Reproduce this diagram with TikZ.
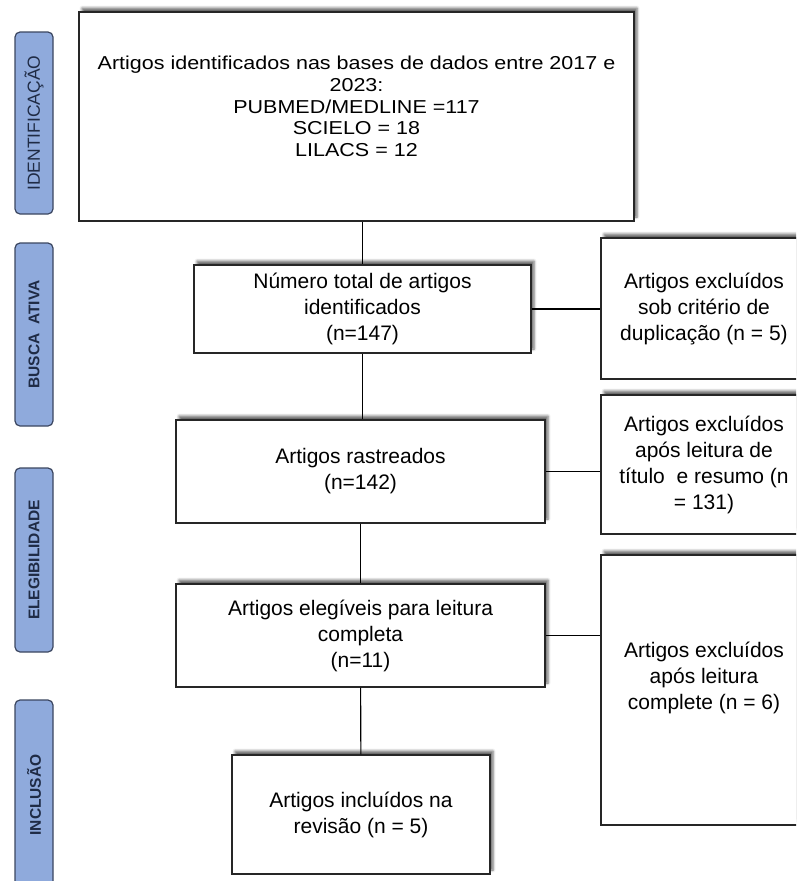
\documentclass[tikz,border=0pt]{standalone}
\usepackage{fontspec}
\setmainfont{Liberation Sans}
\newfontfamily\widefont{Liberation Sans}[FakeStretch=1.15]
\usetikzlibrary{shadows.blur}
\definecolor{phasefill}{HTML}{8FAADC}
\definecolor{phaseline}{HTML}{3B4660}
\definecolor{phasetext}{HTML}{1F2B45}

\begin{document}
\begin{tikzpicture}[x=1pt,y=-1pt,every node/.style={inner sep=0pt},
                    boxfont/.style={font=\fontsize{21}{26}\selectfont}]
  \tikzstyle{stage}=[rectangle,draw=black!85,line width=1.2pt,fill=white,align=center,boxfont,
                     blur shadow={shadow xshift=3pt,shadow yshift=4pt,shadow blur radius=2.5pt,shadow opacity=60}]
  \tikzstyle{phase}=[rectangle,rounded corners=5pt,draw=phaseline,line width=1.2pt,fill=phasefill,
                     text=phasetext,rotate=90,minimum height=38pt,font=\bfseries\fontsize{15.5}{18}\selectfont]
  \tikzstyle{link}=[line width=1.1pt]

  \clip (0,0) rectangle (796,881);

  \node[phase,minimum width=182pt,font=\fontsize{17.5}{20}\selectfont] (LI) at (34,123) {IDENTIFICAÇÃO};
  \node[phase,minimum width=183pt] (LB) at (34,334.5) {BUSCA\ \ ATIVA};
  \node[phase,minimum width=184pt] (LE) at (34,560) {ELEGIBILIDADE};
  \node[phase,minimum width=190pt] (LN) at (34,795) {INCLUSÃO};

  \node[stage,minimum width=555pt,minimum height=209pt,
        label={[align=center,font=\widefont\fontsize{18.7}{21.7}\selectfont,yshift=10pt]center:{Artigos identificados nas bases de dados entre 2017 e\\2023:\\PUBMED/MEDLINE =117\\SCIELO = 18\\LILACS = 12}}]
        (AI) at (356.5,116.5) {};
  \node[stage,minimum width=337pt,minimum height=88pt]  (NT) at (362.5,309)   {Número total de artigos\\identificados\\(n=147)};
  \node[stage,minimum width=369pt,minimum height=103pt] (AR) at (360.5,471.5) {Artigos rastreados\\(n=142)};
  \node[stage,minimum width=369pt,minimum height=103pt] (AE) at (360.5,635.5) {Artigos elegíveis para leitura\\completa\\(n=11)};
  \node[stage,minimum width=258pt,minimum height=119pt] (AN) at (361,814.5)   {Artigos incluídos na\\revisão (n = 5)};

  \node[stage,minimum width=206pt,minimum height=141pt] (ED) at (704,308.5) {Artigos excluídos\\sob critério de\\duplicação (n = 5)};
  \node[stage,minimum width=206pt,minimum height=139pt] (ET) at (704,464.5) {Artigos excluídos\\após leitura de\\título\ \ e resumo (n\\= 131)};
  \node[stage,minimum width=206pt,minimum height=270pt,
        label={[align=center,boxfont,yshift=12pt]center:{Artigos excluídos\\após leitura\\complete (n = 6)}}]
        (EC) at (704,690) {};

  \draw[link] (AI.south -| NT.north) -- (NT.north);
  \draw[link] (NT.south) -- (NT.south |- AR.north);
  \draw[link] (AR) -- (AE);
  \draw[link] (AE) -- (AN);
  \draw[link] (NT) -- (NT -| ED.west);
  \draw[link] (AR) -- (AR -| ET.west);
  \draw[link] (AE) -- (AE -| EC.west);
\end{tikzpicture}
\end{document}
